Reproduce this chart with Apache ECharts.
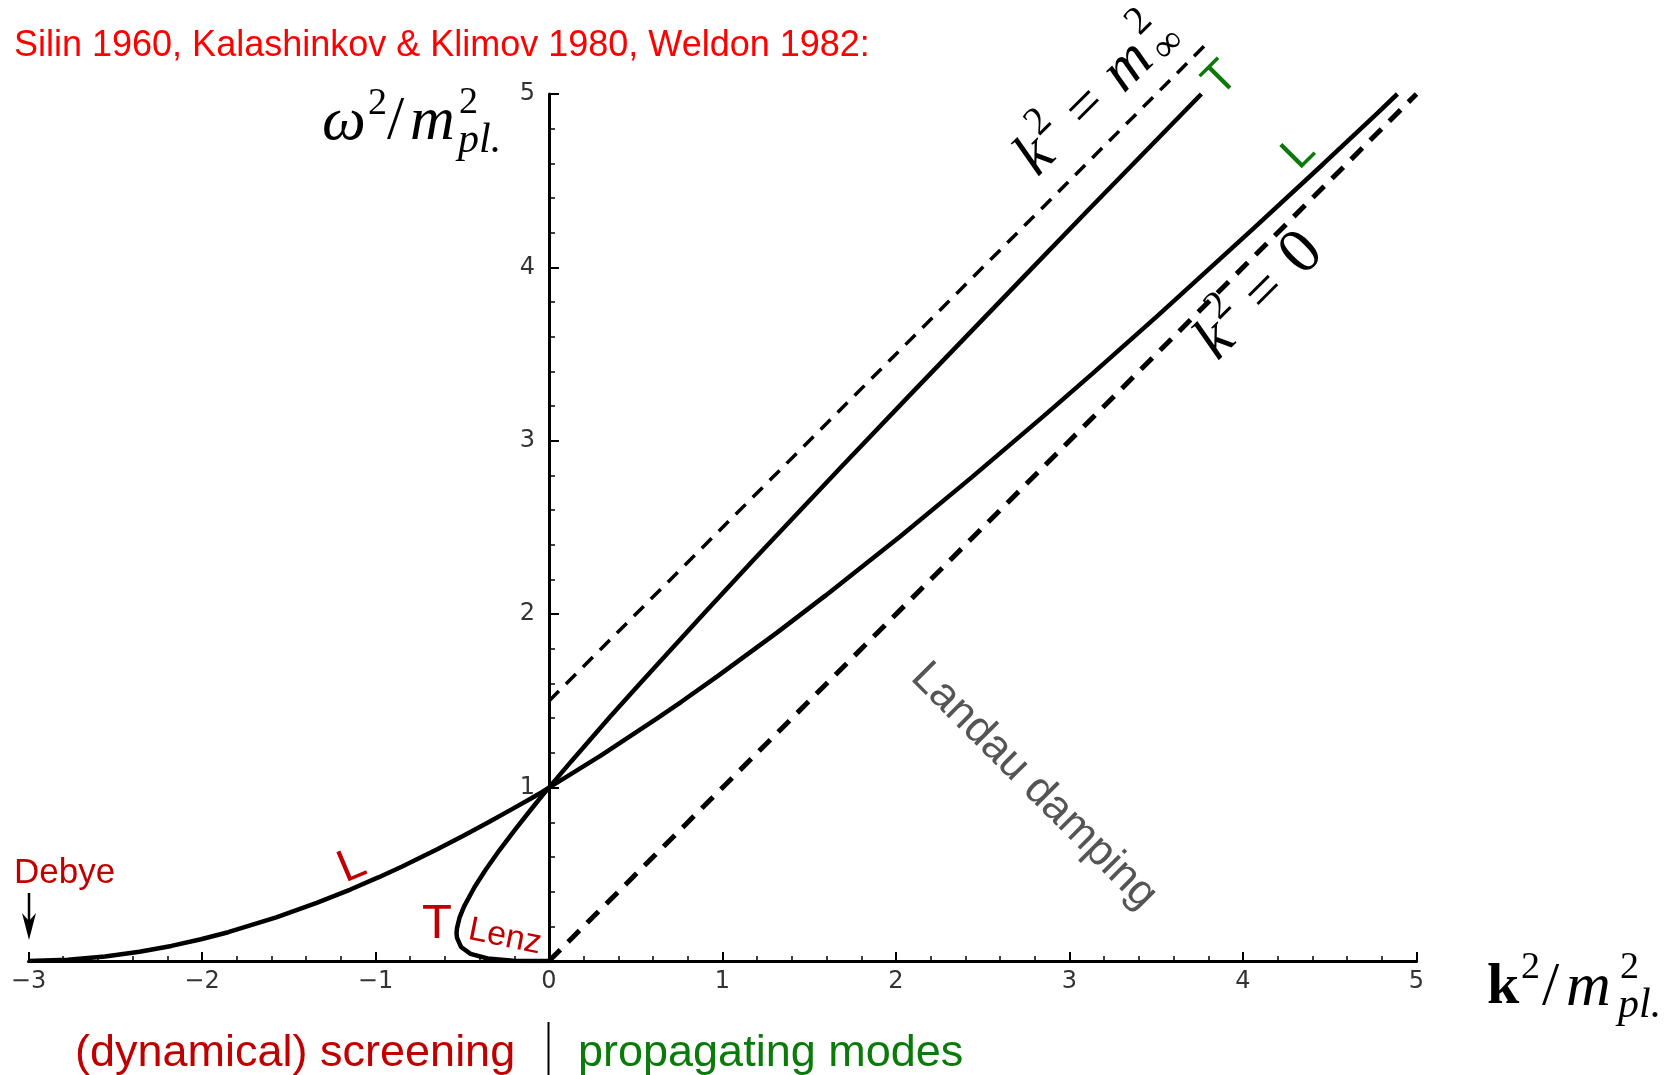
<!DOCTYPE html>
<html><head><meta charset="utf-8">
<script src="https://cdn.jsdelivr.net/npm/echarts/dist/echarts.min.js"></script>
<style>html,body{margin:0;padding:0;background:#fff}#c{width:1674px;height:1075px}</style>
</head><body><div id="c"></div>
<script>
// ---- data (k^2/m_pl^2 , omega^2/m_pl^2) ----
const tPropK = [0, 0.128, 0.352, 0.522, 0.889, 1.181, 1.688, 2.107, 2.751, 3.115, 3.576, 3.76];
const tPropW = [1, 1.151, 1.408, 1.598, 2.0, 2.315, 2.853, 3.292, 3.961, 4.338, 4.811, 5.0];
const lPropK = [0, 0.119, 0.296, 0.621, 0.763, 0.972, 1.316, 1.593, 2.024, 2.436, 2.849, 3.134, 3.512, 4.061, 4.461, 4.775, 4.89];
const lPropW = [1, 1.073, 1.183, 1.398, 1.495, 1.643, 1.895, 2.107, 2.448, 2.789, 3.141, 3.389, 3.725, 4.225, 4.595, 4.890, 5.0];
const lScrK = [-3, -2.772, -2.559, -2.360, -2.176, -2.006, -1.849, -1.572, -1.339, -1.145, -0.984, -0.849, -0.644, -0.499, -0.354, -0.218, -0.104, -0.039, 0];
const lScrW = [0, 0.0069, 0.0256, 0.0531, 0.087, 0.1254, 0.166, 0.2515, 0.3348, 0.412, 0.482, 0.544, 0.644, 0.719, 0.797, 0.873, 0.937, 0.975, 1];
const tScrK = [0, -0.038, -0.098, -0.191, -0.285, -0.365, -0.428, -0.490, -0.515, -0.530, -0.533, -0.530, -0.507, -0.452, -0.354, -0.206, -0.110, 0];
const tScrW = [1, 0.955, 0.881, 0.763, 0.640, 0.526, 0.428, 0.314, 0.252, 0.191, 0.161, 0.133, 0.081, 0.041, 0.0142, 0.0021, 0.0003, 0];
const mInfK = [0, 3.8];
const mInfW = [1.5, 5.3];
const coneK = [0, 5];
const coneW = [0, 5];
const xTickLabels = ['\u22123', '\u22122', '\u22121', '0', '1', '2', '3', '4', '5'];
const yTickLabels = ['', '1', '2', '3', '4', '5'];

const zip = (a, b) => a.map((v, i) => [v, b[i]]);

const DARKRED = '#c00000', GREEN = '#0a7a0a';
const SERIF = 'Liberation Serif, DejaVu Serif, serif';
const SANS = 'Liberation Sans, Arial, sans-serif';

function T(x, y, text, o) {
  o = o || {};
  return {type: 'text', x: x, y: y, rotation: o.rot || 0, z: 100,
    style: {text: text, fill: o.fill || '#000', fontSize: o.size || 20,
      fontFamily: o.family || SANS, fontStyle: o.style || 'normal',
      fontWeight: o.weight || 'normal', align: o.align || 'left',
      verticalAlign: o.va || 'middle'}};
}
function G(x, y, rot, children) {
  return {type: 'group', x: x, y: y, rotation: rot, z: 100, children: children};
}

const chart = echarts.init(document.getElementById('c'), null, {renderer: 'canvas'});
const lineS = (name, k, w, extra) => Object.assign({
  type: 'line', name: name, data: zip(k, w), symbol: 'none', smooth: false,
  lineStyle: {color: '#000', width: 4.5}, z: 5, silent: true, animation: false
}, extra || {});

const option = {
  animation: false,
  backgroundColor: '#fff',
  grid: {left: 28.5, right: 257.5, top: 94, bottom: 114, containLabel: false},
  xAxis: {
    type: 'value', min: -3, max: 5, interval: 1,
    axisLine: {show: true, onZero: false, lineStyle: {color: '#000', width: 3}},
    axisTick: {show: true, inside: true, length: 9, lineStyle: {color: '#000', width: 2}},
    minorTick: {show: true, splitNumber: 5, length: 5, lineStyle: {color: '#000', width: 1.5}},
    splitLine: {show: false},
    axisLabel: {show: true, margin: 9, color: '#333', fontSize: 24, fontFamily: 'DejaVu Sans',
      formatter: (v) => xTickLabels[Math.round(v) + 3]}
  },
  yAxis: {
    type: 'value', min: 0, max: 5, interval: 1, position: 'left', offset: -520.5,
    axisLine: {show: true, onZero: false, lineStyle: {color: '#000', width: 3}},
    axisTick: {show: true, inside: true, length: 10, lineStyle: {color: '#000', width: 2}},
    minorTick: {show: true, splitNumber: 5, length: 6, lineStyle: {color: '#000', width: 1.5}},
    splitLine: {show: false},
    axisLabel: {show: true, margin: 14, color: '#333', fontSize: 24, fontFamily: 'DejaVu Sans',
      formatter: (v) => yTickLabels[Math.round(v)]}
  },
  series: [
    lineS('T propagating', tPropK, tPropW),
    lineS('L propagating', lPropK, lPropW),
    lineS('L screening', lScrK, lScrW),
    lineS('T screening', tScrK, tScrW),
    lineS('m_inf', mInfK, mInfW, {clip: false, lineStyle: {color: '#000', width: 3.5, type: [14, 10]}}),
    lineS('light cone', coneK, coneW, {clip: false, lineStyle: {color: '#000', width: 5, type: [16, 11]}})
  ],
  graphic: [
    // title
    T(14, 46, 'Silin 1960, Kalashinkov & Klimov 1980, Weldon 1982:', {fill: '#ff0000', size: 36}),
    // y axis name  omega^2 / m^2_pl.
    T(322, 123, '\u03c9', {family: SERIF, style: 'italic', size: 62}),
    T(368, 104, '2', {family: SERIF, size: 38}),
    T(387, 122, '/', {family: SERIF, size: 62}),
    T(410, 123, 'm', {family: SERIF, style: 'italic', size: 62}),
    T(459, 103, '2', {family: SERIF, size: 38}),
    T(458, 141, 'pl.', {family: SERIF, style: 'italic', size: 42}),
    // x axis name  k^2 / m^2_pl.
    T(1487, 988, 'k', {family: SERIF, weight: 'bold', size: 58}),
    T(1521, 968, '2', {family: SERIF, size: 38}),
    T(1542, 988, '/', {family: SERIF, size: 62}),
    T(1566, 989, 'm', {family: SERIF, style: 'italic', size: 62}),
    T(1620, 968, '2', {family: SERIF, size: 38}),
    T(1618, 1006, 'pl.', {family: SERIF, style: 'italic', size: 42}),
    // k^2 = m^2_inf (rotated along dashed line)
    G(1026, 166, Math.PI / 4, [
      T(0, 0, 'k', {family: SERIF, style: 'italic', size: 62}),
      T(30, -22, '2', {family: SERIF, size: 40}),
      T(67, 2, '=', {family: SERIF, size: 60}),
      T(120, 2, 'm', {family: SERIF, style: 'italic', size: 62}),
      T(172, -22, '2', {family: SERIF, size: 40}),
      T(172, 16, '\u221e', {family: SERIF, size: 40})
    ]),
    // k^2 = 0
    G(1206, 350, Math.PI / 4, [
      T(0, 0, 'k', {family: SERIF, style: 'italic', size: 62}),
      T(30, -22, '2', {family: SERIF, size: 40}),
      T(66, 2, '=', {family: SERIF, size: 60}),
      T(120, 0, '0', {family: SERIF, size: 64})
    ]),
    // green mode labels
    T(1221, 79, 'T', {fill: GREEN, size: 46, align: 'center', rot: Math.PI / 4}),
    T(1299, 153, 'L', {fill: GREEN, size: 46, align: 'center', rot: Math.PI / 4}),
    // red labels
    T(352, 866, 'L', {fill: DARKRED, size: 46, align: 'center', rot: 0.4}),
    T(437, 924, 'T', {fill: DARKRED, size: 49, align: 'center'}),
    T(505, 937, 'Lenz', {fill: DARKRED, size: 34, align: 'center', rot: -0.2}),
    T(14, 873, 'Debye', {fill: DARKRED, size: 35}),
    // Debye arrow
    {type: 'line', z: 100, shape: {x1: 29, y1: 893, x2: 29, y2: 928}, style: {stroke: '#000', lineWidth: 2.5}},
    {type: 'polygon', z: 100, shape: {points: [[29, 940], [22, 913], [29, 921], [36, 913]]}, style: {fill: '#000'}},
    // Landau damping
    T(1034, 786, 'Landau damping', {fill: '#555', size: 44, align: 'center', rot: -Math.PI / 4}),
    // bottom
    T(75, 1054, '(dynamical) screening', {fill: DARKRED, size: 45}),
    T(578, 1054, 'propagating modes', {fill: GREEN, size: 45}),
    {type: 'line', z: 100, shape: {x1: 548.5, y1: 1022, x2: 548.5, y2: 1075}, style: {stroke: '#000', lineWidth: 2}}
  ]
};
chart.setOption(option);
</script></body></html>
